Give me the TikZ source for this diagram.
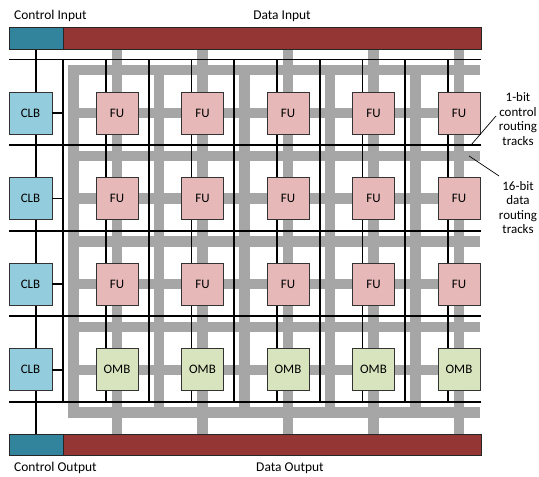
\documentclass[tikz,border=0pt]{standalone}
\usepackage{fontspec}
\setmainfont{Carlito}
\definecolor{ctrlteal}{HTML}{31849B}
\definecolor{datared}{HTML}{943634}
\definecolor{clbblue}{HTML}{93CDDD}
\definecolor{fupink}{HTML}{E6B9B8}
\definecolor{ombgreen}{HTML}{D7E4BD}
\definecolor{trackgray}{HTML}{A6A6A6}
\begin{document}
\begin{tikzpicture}[x=1bp,y=-1bp,
  track/.style={draw=trackgray, line width=10.5bp},
  wire/.style={draw=black, line width=1.6bp},
  thinwire/.style={draw=black, line width=0.7bp},
  unitbox/.style={draw=black!80, line width=0.8bp, minimum width=42bp, minimum height=42bp, inner sep=0pt, font=\fontsize{13}{15}\selectfont},
  clbbox/.style={unitbox, fill=clbblue, minimum width=43bp},
  fubox/.style={unitbox, fill=fupink},
  ombbox/.style={unitbox, fill=ombgreen},
  barbox/.style={draw=black!85, line width=0.8bp, inner sep=0pt, minimum height=22bp},
  lbl/.style={inner sep=0pt, font=\fontsize{13.5}{15}\selectfont},
  sidelbl/.style={inner sep=0pt, align=center, font=\fontsize{13}{14.5}\selectfont}
]
\useasboundingbox (0,0) rectangle (539,477);

% routing tracks (gray)
\foreach \y in {70.2,113,155.8,198.6,241.4,284.2,327,369.8,412.6}
  \draw[track] (68,\y) -- (480,\y);
\foreach \x in {73.5,159,244.5,330,415.5}
  \draw[track] (\x,65) -- (\x,418);
\foreach \x in {117,202.5,288,373.5,459}
  \draw[track] (\x,49) -- (\x,434);

% control wires (black)
\foreach \y in {59.5,145,231,316,402}
  \draw[wire] (9,\y) -- (481,\y);
\foreach \x in {63,106,149,191.5,234,277,320,362.5,405,448}
  \draw[wire] (\x,59.5) -- (\x,402);
\coordinate (busTop) at (36,49);
\coordinate (busBot) at (36,434);
\draw[wire] (busTop) -- (busBot);

% units
\foreach \r/\y in {1/113,2/198.6,3/284.2,4/369.8} {
  \node[clbbox] (clb\r) at (30.5,\y) {CLB};
  \coordinate (tap\r) at (63,\y);
  \draw[wire] (clb\r.east) -- (tap\r);
}
\foreach \r/\y in {1/113,2/198.6,3/284.2}
  \foreach \c/\x in {1/117,2/202.5,3/288,4/373.5,5/459}
    \node[fubox] (fu\r\c) at (\x,\y) {FU};
\foreach \c/\x in {1/117,2/202.5,3/288,4/373.5,5/459}
  \node[ombbox] (omb\c) at (\x,369.8) {OMB};

% input / output bars
\node[barbox, fill=ctrlteal, minimum width=54bp] (cin) at (36,38) {};
\node[barbox, fill=datared, minimum width=418bp] (din) at (272,38) {};
\node[barbox, fill=ctrlteal, minimum width=54bp, minimum height=21bp] (cout) at (36,444.5) {};
\node[barbox, fill=datared, minimum width=418bp, minimum height=21bp] (dout) at (272,444.5) {};

% labels
\node[lbl, anchor=base west] (tci) at (14,20) {Control Input};
\node[lbl, anchor=base] (tdi) at (282,20) {Data Input};
\node[lbl, anchor=base west] (tco) at (14,471.5) {Control Output};
\node[lbl, anchor=base] (tdo) at (290,471.5) {Data Output};

\node[sidelbl] (lab1) at (518,119) {1-bit\\control\\routing\\tracks};
\node[sidelbl] (lab16) at (518,207.5) {16-bit\\data\\routing\\tracks};
\coordinate (p1a) at (496,116);
\coordinate (p1b) at (471,145);
\coordinate (p2a) at (469,156);
\coordinate (p2b) at (499,176);
\draw[thinwire] (p1a) -- (p1b);
\draw[thinwire] (p2a) -- (p2b);
\end{tikzpicture}
\end{document}
